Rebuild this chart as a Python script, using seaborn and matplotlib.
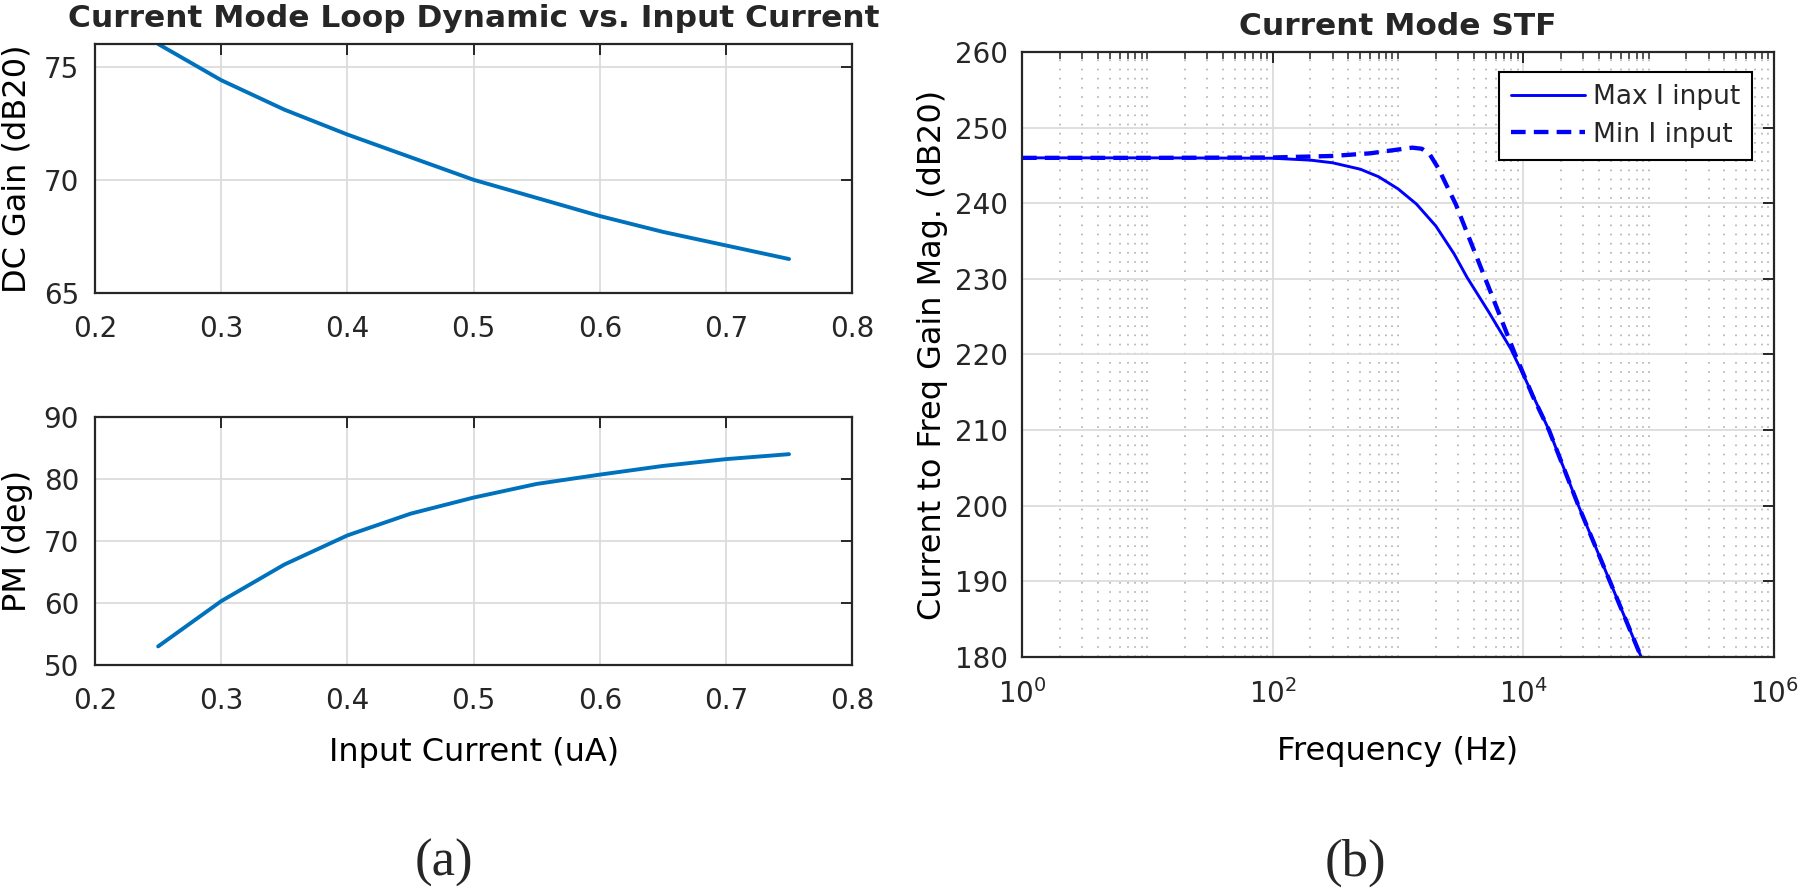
import numpy as np
import pandas as pd
import matplotlib
matplotlib.use("Agg")
import matplotlib.pyplot as plt
from matplotlib.ticker import LogLocator, NullFormatter
import seaborn as sns

# (a) loop dynamics vs. input current
input_current = [0.25, 0.30, 0.35, 0.40, 0.45, 0.50, 0.55, 0.60, 0.65, 0.70, 0.75]
dc_gain = [76.0, 74.4, 73.1, 72.0, 71.0, 70.0, 69.2, 68.4, 67.7, 67.1, 66.5]
phase_margin = [53.0, 60.3, 66.2, 70.9, 74.4, 77.0, 79.2, 80.7, 82.1, 83.2, 84.0]

# (b) current mode STF magnitude
freq_max = [1, 10, 100, 200, 300, 500, 700, 1000, 1400, 2000, 2800, 3550,
            5300, 7900, 10000, 16000, 27500, 49000, 87000]
mag_max = [246.0, 246.0, 245.95, 245.7, 245.35, 244.5, 243.5, 241.9, 239.9,
           237.0, 233.3, 230.2, 225.6, 220.8, 217.3, 210.0, 200.0, 190.0, 180.0]
freq_min = [1, 10, 100, 300, 600, 1000, 1300, 1550, 1800, 2100, 2500, 2900,
            3550, 5400, 8500, 11950, 16000, 27500, 49000, 87000]
mag_min = [246.0, 246.0, 246.05, 246.25, 246.6, 247.1, 247.35, 247.2, 246.4,
           244.6, 242.0, 239.8, 236.1, 228.5, 220.2, 214.4, 210.0,
           200.0, 190.0, 180.0]

series_names = ["Max I input", "Min I input"]

sns.set_style("white")
plt.rcParams["font.family"] = ["DejaVu Sans"]
plt.rcParams["axes.unicode_minus"] = False

dark = "#262626"
matlab_blue = "#0072BD"

fig = plt.figure(figsize=(18, 8.9), dpi=100)
ax_gain = fig.add_axes([0.0528, 0.6708, 0.4206, 0.2798])
ax_pm = fig.add_axes([0.0528, 0.2528, 0.4206, 0.2787])
ax_stf = fig.add_axes([0.5678, 0.2618, 0.4178, 0.6798])


def style_axes(ax, ypad):
    for sp in ax.spines.values():
        sp.set_visible(True)
        sp.set_color(dark)
        sp.set_linewidth(1.6)
    ax.tick_params(which="major", direction="in", top=True, right=True,
                   length=8, width=1.4, colors=dark, labelsize=20)
    ax.tick_params(axis="x", which="major", pad=16)
    ax.tick_params(axis="y", which="major", pad=ypad)
    ax.grid(True, which="major", color="#dcdcdc", lw=1.3)
    ax.set_axisbelow(True)


# --- left: DC gain ---
sns.lineplot(x=input_current, y=dc_gain, ax=ax_gain, color=matlab_blue, lw=2.8)
ax_gain.set_xlim(0.2, 0.8)
ax_gain.set_ylim(65, 76)
ax_gain.set_xticks([0.2, 0.3, 0.4, 0.5, 0.6, 0.7, 0.8])
ax_gain.set_yticks([65, 70, 75])
style_axes(ax_gain, 11.5)
ax_gain.set_ylabel("DC Gain (dB20)", fontsize=23, color="black")
ax_gain.yaxis.set_label_coords(-0.082, 0.5)
ax_gain.set_title("Current Mode Loop Dynamic vs. Input Current",
                  fontsize=22.5, fontweight="bold", pad=12)

# --- left: phase margin ---
sns.lineplot(x=input_current, y=phase_margin, ax=ax_pm, color=matlab_blue, lw=2.8)
ax_pm.set_xlim(0.2, 0.8)
ax_pm.set_ylim(50, 90)
ax_pm.set_xticks([0.2, 0.3, 0.4, 0.5, 0.6, 0.7, 0.8])
ax_pm.set_yticks([50, 60, 70, 80, 90])
style_axes(ax_pm, 11.5)
ax_pm.set_ylabel("PM (deg)", fontsize=23, color="black")
ax_pm.yaxis.set_label_coords(-0.082, 0.5)
ax_pm.set_xlabel("Input Current (uA)", fontsize=23, color="black")
ax_pm.xaxis.set_label_coords(0.5, -0.29)

# --- right: STF ---
sns.lineplot(x=freq_max, y=mag_max, ax=ax_stf, color="#0000FF", lw=2.1,
             label=series_names[0])
sns.lineplot(x=freq_min, y=mag_min, ax=ax_stf, color="#0000FF", lw=3.1,
             linestyle=(0, (3.4, 1.9)), label=series_names[1])
ax_stf.set_xscale("log")
ax_stf.set_xlim(1, 1e6)
ax_stf.set_ylim(180, 260)
ax_stf.set_xticks([1, 1e2, 1e4, 1e6])
ax_stf.set_yticks(list(range(180, 261, 10)))
ax_stf.xaxis.set_minor_locator(LogLocator(base=10, subs=np.arange(1, 10), numticks=100))
ax_stf.xaxis.set_minor_formatter(NullFormatter())
style_axes(ax_stf, 10)
ax_stf.tick_params(axis="x", which="minor", direction="in", top=True,
                   length=5, width=1.1, colors=dark)
ax_stf.grid(True, which="minor", axis="x", color="#b0b0b0", lw=1.2,
            ls=(0, (1, 4.5)))
ax_stf.set_ylabel("Current to Freq Gain Mag. (dB20)", fontsize=23, color="black")
ax_stf.yaxis.set_label_coords(-0.098, 0.5)
ax_stf.set_xlabel("Frequency (Hz)", fontsize=23, color="black")
ax_stf.xaxis.set_label_coords(0.5, -0.13)
ax_stf.set_title("Current Mode STF", fontsize=22.5, fontweight="bold", pad=12)

leg = ax_stf.legend(loc="upper right", bbox_to_anchor=(0.971, 0.967),
                    borderaxespad=0, fontsize=19, frameon=True, fancybox=False,
                    handlelength=2.8, handletextpad=0.3, borderpad=0.45,
                    labelspacing=0.45)
leg.get_frame().set_edgecolor("black")
leg.get_frame().set_linewidth(1.5)
leg.get_frame().set_alpha(1.0)

fig.text(0.2467, 0.0303, "(a)", fontsize=38, family=["Liberation Serif", "DejaVu Serif"],
         ha="center", va="center")
fig.text(0.7528, 0.0303, "(b)", fontsize=38, family=["Liberation Serif", "DejaVu Serif"],
         ha="center", va="center")

fig.savefig("out.png", dpi=100)
